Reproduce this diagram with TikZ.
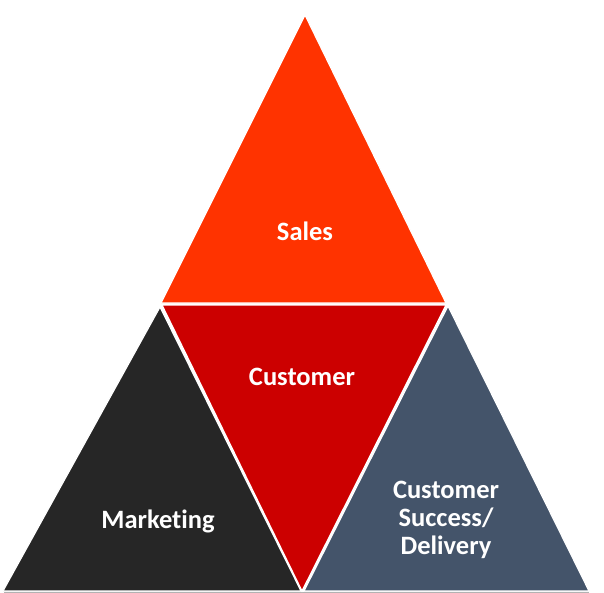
\documentclass[tikz,border=0pt]{standalone}
\usepackage{fontspec}
\setmainfont[Ligatures=NoCommon]{Carlito}
\definecolor{salesred}{HTML}{FF3300}
\definecolor{custred}{HTML}{CC0000}
\definecolor{mkdark}{HTML}{262626}
\definecolor{slate}{HTML}{44546A}
\begin{document}
\begin{tikzpicture}[x=1pt,y=-1pt,
  tri/.style={draw=white,line width=1.2pt,line join=miter},
  lbl/.style={text=white,font=\fontsize{26.5}{28}\selectfont\bfseries,align=center}]
\useasboundingbox (0,0) rectangle (604,593);
\draw[gray!60,line width=1pt] (4,592) -- (589,592);
\filldraw[tri,fill=salesred] (305,15) -- (446,303) -- (161,303) -- cycle;
\filldraw[tri,fill=custred] (162,305) -- (446,305) -- (302,591) -- cycle;
\filldraw[tri,fill=mkdark] (160,307) -- (301,591) -- (3,591) -- cycle;
\filldraw[tri,fill=slate] (448,306) -- (589,591) -- (304,591) -- cycle;
\node[lbl] (sales) at (305,231) {Sales};
\node[lbl] (customer) at (302,377) {Customer};
\node[lbl] (marketing) at (158,521) {Marketing};
\node[lbl] (success) at (446,520) {Customer\\Success/\\Delivery};
\end{tikzpicture}
\end{document}
